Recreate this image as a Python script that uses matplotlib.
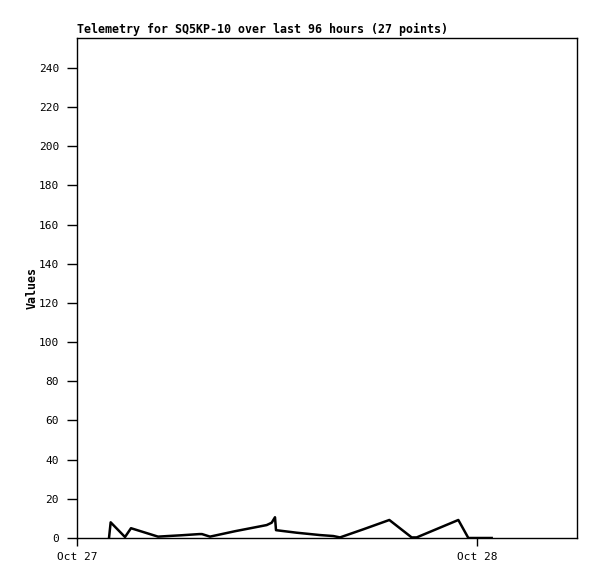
import datetime as dt
import matplotlib
matplotlib.use("Agg")
import matplotlib.pyplot as plt
import matplotlib.dates as mdates

# hours after Oct 27 00:00
hours = [1.92, 2.02, 2.88, 3.24, 4.86, 5.46, 6.28, 7.34, 7.5, 7.98,
         9.5, 11.38, 11.68, 11.88, 11.94, 13.18, 14.58, 15.38, 15.78, 17.2,
         18.74, 20.08, 20.38, 22.88, 23.48, 24.2, 24.88]
values = [0, 8, 0.5, 5, 0.7, 1, 1.4, 2, 2, 0.7,
          3.5, 6.6, 7.8, 10.6, 4, 2.7, 1.5, 1, 0.3, 4.5,
          9.2, 0.3, 0.3, 9.2, 0, 0, 0]
title = "Telemetry for SQ5KP-10 over last 96 hours (27 points)"
start = dt.datetime(2023, 10, 27)
times = [start + dt.timedelta(hours=h) for h in hours]

plt.rcParams['font.family'] = 'DejaVu Sans Mono'
plt.rcParams['font.size'] = 8

fig = plt.figure(figsize=(5.97, 5.79), dpi=100)
ax = fig.add_axes([77/597, 41/579, 500/597, 500/579])
ax.plot(times, values, color='black', lw=1.8)

ax.set_xlim(start, start + dt.timedelta(hours=30))
ax.set_ylim(0, 255.3)
ax.set_yticks(range(0, 241, 20))
ax.xaxis.set_major_locator(mdates.DayLocator())
ax.xaxis.set_major_formatter(mdates.DateFormatter('%b %d'))
ax.tick_params(axis='y', length=7, width=1, pad=6)
ax.tick_params(axis='x', length=6, width=1, pad=4)
for s in ax.spines.values():
    s.set_linewidth(1)

ax.set_ylabel('Values', fontweight='bold', fontsize=8.4, labelpad=0)
ax.text(0, 1.004, title, transform=ax.transAxes, fontweight='bold',
        fontsize=8.4, ha='left', va='bottom')

fig.savefig('out.png', dpi=100)
